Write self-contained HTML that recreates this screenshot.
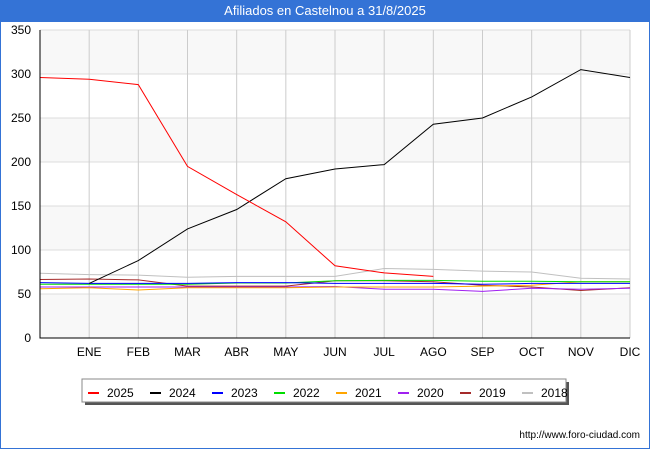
<!DOCTYPE html>
<html><head><meta charset="utf-8"><style>
body{margin:0;width:650px;height:450px;overflow:hidden;background:#fff;font-family:"Liberation Sans","DejaVu Sans",sans-serif}
#wrap{position:absolute;left:0;top:0;width:648px;height:448px;border:1px solid #3473d6;border-top:none}
#title{position:absolute;left:0;top:0;width:650px;height:22px;background:#3473d6;color:#fff;font-size:13px;text-align:center;line-height:22px}
</style></head><body>
<div id="wrap"></div>
<div id="title">Afiliados en Castelnou a 31/8/2025</div>
<svg id="chart" width="650" height="450" style="position:absolute;left:0;top:0"></svg>
<script>
const months=["","ENE","FEB","MAR","ABR","MAY","JUN","JUL","AGO","SEP","OCT","NOV","DIC"];
const yTicks=[0,50,100,150,200,250,300,350];
const seriesNames=["2025","2024","2023","2022","2021","2020","2019","2018"];
const seriesColors=["#ff0000","#000000","#0000ff","#00dd00","#ffa500","#a020f0","#a52a2a","#c0c0c0"];
const s2025=[296,294,288,195,163,132,82,74,70,null,null,null,null];
const s2024=[null,62,88,124,146,181,192,197,243,250,274,305,296];
const s2023=[63,62,62,62,63,63,62,62,62,61,62,62,62];
const s2022=[61,61,61,61,62.5,62.5,65,65.5,65.5,64.5,64.5,64,64];
const s2021=[56,57,54.5,57,57,57,58,58,58,59,60,64,64];
const s2020=[58,58,58,58,58,58,58.5,55.5,55.5,53,56.5,55.5,56.5];
const s2019=[66.5,67,66,59,59,59,65,65,64,60,58,54,57];
const s2018=[73.5,72,71.5,69,70,70,70,79,78,76,75,68,67];
const allSeries=[s2025,s2024,s2023,s2022,s2021,s2020,s2019,s2018];
const X0=40,X1=630,Y0=338,Y1=30;
const xs=i=>X0+i*(X1-X0)/12;
const ys=v=>Y0-v*(Y0-Y1)/350;
const svg=document.getElementById('chart');const NS="http://www.w3.org/2000/svg";
function mk(t,a,p){const e=document.createElementNS(NS,t);for(const k in a)e.setAttribute(k,a[k]);(p||svg).appendChild(e);return e;}
for(let i=0;i<7;i++){const r=mk('rect',{x:X0,y:ys(yTicks[i+1]),width:X1-X0,height:ys(yTicks[i])-ys(yTicks[i+1]),fill:i%2==0?'#f8f8f8':'#ffffff'});

}
yTicks.forEach(v=>{const l=mk('line',{x1:X0,x2:X1,y1:ys(v),y2:ys(v),stroke:'#dddddd'});


const t=mk('text',{x:31,y:ys(v)+4,'text-anchor':'end','font-size':12,fill:'#000'});t.textContent=v;

});
months.forEach((m,i)=>{if(i==0)return;const l=mk('line',{x1:xs(i),x2:xs(i),y1:Y1,y2:Y0,stroke:'#cccccc'});


const t=mk('text',{x:xs(i),y:356,'text-anchor':'middle','font-size':12,fill:'#000'});t.textContent=m;

});
for(let s=allSeries.length-1;s>=0;s--){const d=[];allSeries[s].forEach((v,i)=>{if(v!=null)d.push((d.length?'L':'M')+xs(i).toFixed(1)+','+ys(v).toFixed(1));});
const p=mk('path',{d:d.join(''),fill:'none',stroke:seriesColors[s],'stroke-width':1});

}
const ax=mk('path',{d:`M${X0},${Y1}V${Y0}H${X1}`,fill:'none',stroke:'#000'});


const lg=mk('g',{});


mk('rect',{x:85,y:382,width:484,height:23,fill:'#555'},lg);
mk('rect',{x:82,y:379,width:484,height:23,fill:'#fff',stroke:'#888'},lg);
seriesNames.forEach((n,i)=>{const g=mk('g',{},lg);


const x0=88+i*62;mk('line',{x1:x0,x2:x0+11,y1:393,y2:393,stroke:seriesColors[i],'stroke-width':2},g);
const t=mk('text',{x:x0+19,y:397,'font-size':12,fill:'#000'},g);t.textContent=n;});
const u=mk('text',{x:640,y:438,'text-anchor':'end','font-size':10,fill:'#000'});u.textContent='http://www.foro-ciudad.com';


</script>
</body></html>
